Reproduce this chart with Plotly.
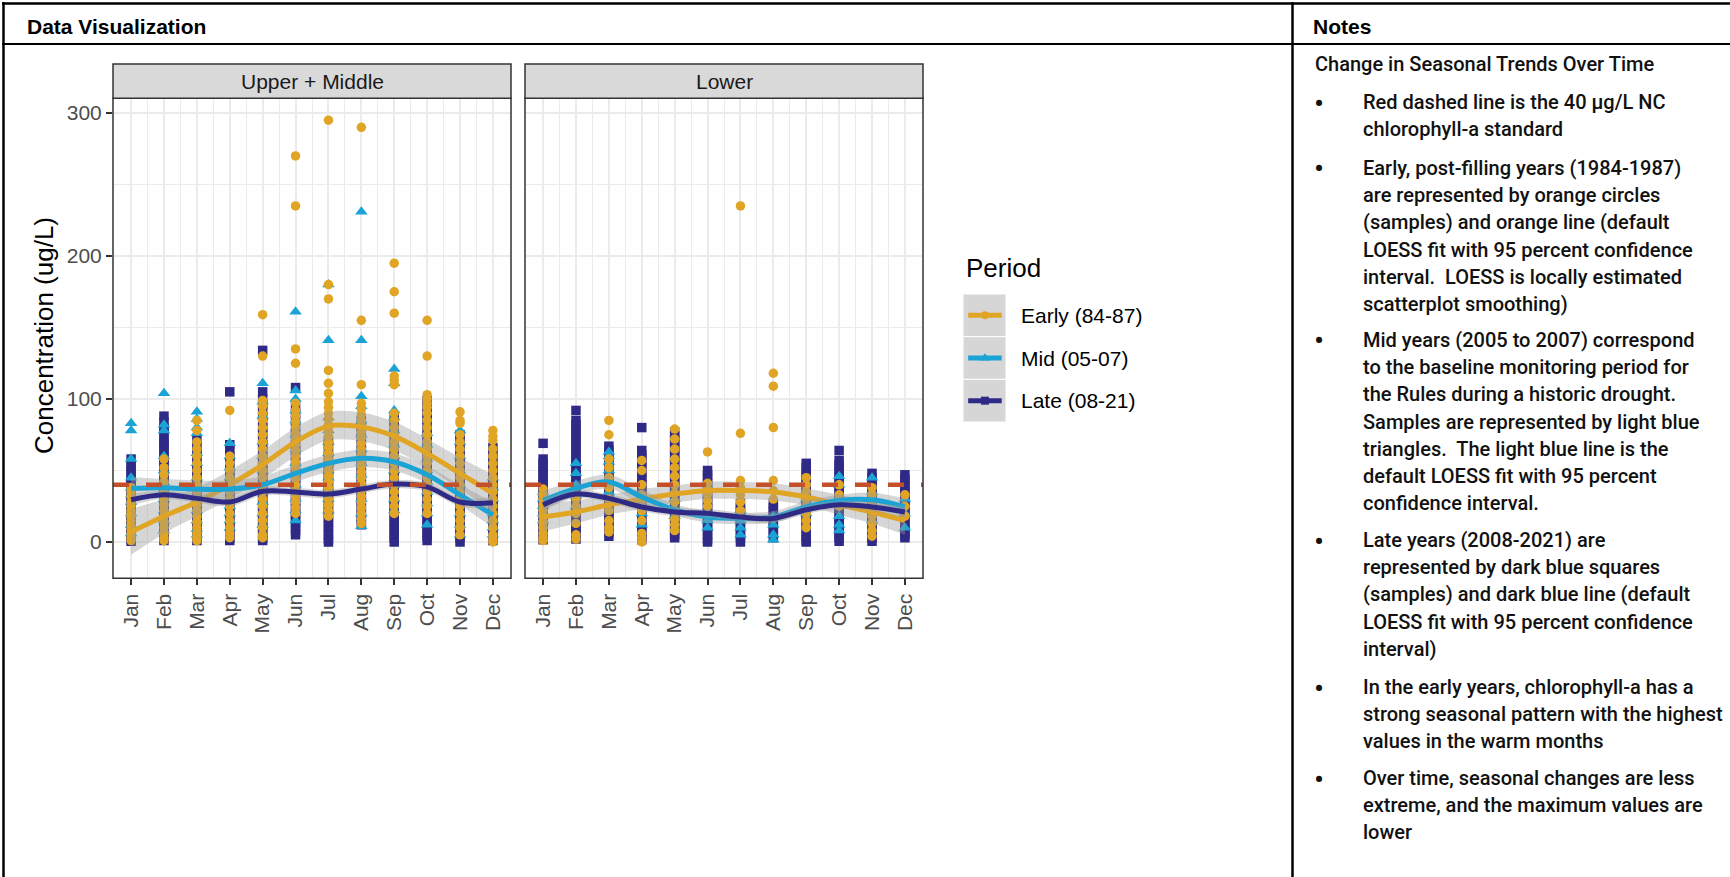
import plotly.graph_objects as go

W, H = 1730, 877

MONTHS = ["Jan", "Feb", "Mar", "Apr", "May", "Jun", "Jul", "Aug", "Sep", "Oct", "Nov", "Dec"]
PANELS = ["Upper + Middle", "Lower"]
PERIODS = ["Early (84-87)", "Mid (05-07)", "Late (08-21)"]
STANDARD = 40  # NC chlorophyll-a standard, ug/L

# ---- samples, one list per month (ug/L) ----
UM_EARLY = [
    [38, 35, 32, 28, 25, 22, 20, 18, 15, 12, 9, 6, 3, 1],
    [58, 52, 47, 42, 38, 34, 30, 26, 22, 18, 14, 10, 6, 3, 1],
    [85, 78, 70, 65, 60, 55, 50, 45, 40, 35, 30, 26, 22, 18, 14, 10, 6, 3, 1],
    [92, 60, 55, 50, 45, 40, 35, 30, 25, 20, 15, 10, 6, 3],
    [159, 130, 99, 95, 90, 85, 80, 75, 70, 65, 60, 55, 50, 45, 40, 35, 30, 25, 20, 15, 10, 5, 3],
    [270, 235, 135, 125, 97, 92, 88, 84, 80, 76, 72, 68, 64, 60, 56, 52, 48, 44, 40, 36, 32, 28, 24, 20],
    [295, 180, 170, 120, 111, 104, 98, 94, 90, 86, 82, 78, 74, 70, 66, 62, 58, 54, 50, 46, 42, 38, 34, 30, 26, 22, 18],
    [290, 155, 110, 97, 93, 89, 85, 81, 77, 73, 69, 65, 61, 57, 53, 49, 45, 41, 36, 32, 28, 24, 20, 16, 13],
    [195, 175, 160, 116, 113, 110, 90, 85, 80, 75, 70, 65, 60, 55, 50, 45, 40, 35, 30, 25, 20],
    [155, 130, 103, 100, 97, 94, 90, 85, 80, 75, 70, 65, 60, 55, 50, 45, 40, 35, 30, 25, 20],
    [91, 85, 83, 75, 70, 65, 60, 55, 50, 45, 40, 35, 30, 25, 20, 15, 10, 5],
    [78, 74, 71, 65, 60, 55, 50, 45, 40, 35, 30, 25, 20, 15, 10, 5, 2, 0],
]
UM_MID = [
    [83, 78, 58, 45, 38, 33, 28, 20, 12, 6],
    [104, 82, 78, 60, 50, 42, 36, 30, 22, 15, 8],
    [91, 86, 80, 76, 62, 55, 45, 38, 30, 22, 15, 9, 5],
    [69, 60, 52, 45, 38, 30, 25, 20, 15, 10],
    [111, 98, 88, 70, 60, 50, 42, 36, 28, 20, 12],
    [161, 106, 100, 92, 85, 75, 65, 55, 48, 40, 30, 22, 15],
    [180, 141, 87, 78, 70, 62, 55, 50, 45, 38, 30, 22],
    [231, 141, 102, 95, 85, 75, 65, 55, 47, 40, 30, 20, 11],
    [121, 111, 92, 87, 78, 68, 60, 50, 40, 30, 22],
    [76, 68, 58, 50, 42, 35, 27, 20, 12],
    [78, 70, 60, 50, 40, 30, 20, 12, 5],
    [45, 38, 30, 20, 15, 10, 5],
]
UM_LATE = [
    [0.5, 2, 4, 6, 8, 11, 13, 15, 18, 20, 22, 25, 27, 30, 32, 35, 37, 40, 42, 45, 48, 51, 54, 58],
    [1, 3, 5, 8, 10, 12, 15, 17, 20, 23, 25, 28, 30, 33, 36, 38, 41, 44, 47, 50, 53, 56, 59, 62, 65, 68, 70, 73, 77, 80, 84, 88],
    [1, 3, 6, 8, 11, 13, 16, 19, 21, 24, 27, 30, 33, 35, 38, 41, 44, 47, 50, 53, 56, 60, 63, 67, 71],
    [1, 3, 5, 8, 10, 13, 16, 18, 21, 24, 27, 30, 33, 36, 39, 42, 45, 48, 52, 56, 60, 64, 68, 105],
    [1, 3, 6, 9, 12, 15, 18, 21, 24, 27, 30, 33, 36, 40, 43, 46, 50, 53, 57, 60, 64, 68, 72, 76, 80, 84, 88, 92, 96, 100, 105, 134],
    [5, 8, 11, 14, 17, 20, 23, 26, 29, 32, 36, 39, 42, 45, 48, 52, 56, 60, 64, 68, 72, 76, 80, 85, 90, 95, 108],
    [0, 2, 5, 8, 11, 14, 17, 20, 23, 26, 29, 32, 35, 38, 41, 44, 47, 50, 53, 56, 60, 64, 68, 71],
    [12, 15, 18, 21, 24, 27, 30, 33, 36, 39, 42, 45, 48, 51, 54, 57, 60, 64, 68, 72, 76, 80, 85],
    [0, 3, 6, 9, 12, 15, 18, 21, 24, 27, 30, 33, 36, 39, 42, 45, 48, 51, 54, 57, 60, 64, 68, 72, 76, 80, 84, 87],
    [1, 4, 7, 10, 13, 16, 19, 22, 25, 28, 31, 34, 37, 40, 43, 46, 49, 52, 55, 58, 62, 66, 70, 74, 78, 82, 86, 90, 95, 99],
    [0, 3, 6, 9, 12, 15, 18, 21, 24, 27, 30, 33, 36, 39, 42, 45, 48, 51, 54, 57, 60, 64, 68, 72, 75],
    [1, 3, 6, 9, 12, 15, 18, 21, 24, 27, 30, 33, 36, 39, 42, 45, 48, 51, 54, 58, 62, 66],
]
LO_EARLY = [
    [37, 33, 30, 26, 22, 18, 14, 10, 6, 3, 1],
    [30, 25, 20, 13, 5, 2],
    [85, 75, 58, 52, 45, 38, 30, 22, 15, 10, 7],
    [57, 50, 40, 33, 28, 22, 15, 6, 3, 0],
    [79, 72, 65, 58, 52, 46, 40, 34, 28, 22, 16, 12, 8],
    [63, 41, 37, 33, 29, 25],
    [235, 76, 43, 38, 33, 28, 22],
    [118, 109, 80, 43, 36, 30],
    [45, 40, 35, 30, 25, 20, 15, 10],
    [40, 33, 25],
    [38, 33, 28, 23, 18, 13, 8, 4],
    [33, 25, 18],
]
LO_MID = [
    [35, 30, 25, 20, 15],
    [55, 48, 40, 32, 25],
    [63, 60, 56, 50, 42, 35],
    [30, 20, 12],
    [30, 22, 18],
    [20, 15, 10],
    [22, 15, 10, 5],
    [18, 12, 5, 1.5],
    [30, 25, 20],
    [46, 40, 30, 18, 12, 8],
    [45, 35, 25, 15],
    [30, 20, 10],
]
LO_LATE = [
    [69, 58, 55, 52, 49, 46, 43, 40, 37, 34, 31, 28, 25, 22, 19, 16, 13, 10, 7, 4, 1.5],
    [92, 85, 82, 79, 76, 73, 70, 67, 64, 61, 58, 55, 52, 49, 46, 43, 40, 37, 34, 31, 28, 25, 22, 19, 16, 13, 10, 7, 4, 2],
    [67, 64, 61, 58, 55, 52, 49, 46, 43, 40, 37, 34, 31, 28, 25, 22, 19, 16, 13, 10, 7, 4],
    [80, 64, 61, 58, 55, 52, 49, 46, 43, 40, 37, 34, 31, 28, 25, 22, 19, 16, 13, 10, 7, 4, 1.5],
    [77, 74, 71, 68, 65, 62, 59, 56, 53, 50, 47, 44, 41, 38, 35, 32, 29, 26, 23, 20, 17, 14, 11, 8, 5, 3],
    [50, 47, 44, 41, 38, 35, 32, 29, 26, 23, 20, 17, 14, 11, 8, 5, 2, 0],
    [27, 24, 21, 18, 15, 12, 9, 6, 3, 0],
    [27, 24, 21, 18, 15, 12, 9, 6, 3],
    [55, 52, 49, 46, 43, 40, 37, 34, 31, 28, 25, 22, 19, 16, 13, 10, 7, 4, 1, 0],
    [64, 57, 54, 51, 48, 45, 42, 39, 36, 33, 30, 27, 24, 21, 18, 15, 12, 9, 6, 3, 0.5],
    [48, 45, 42, 39, 36, 33, 30, 27, 24, 21, 18, 15, 12, 9, 6, 3, 0.5],
    [47, 44, 41, 38, 35, 32, 29, 26, 23, 20, 17, 14, 11, 8, 5, 3],
]

# ---- LOESS fits by month and 95% CI half-widths ----
UM_EARLY_FIT = [7, 18, 28, 40, 54, 70, 81, 80.5, 74, 62, 48, 34]
UM_EARLY_CI = [16, 12, 10, 10, 10, 10, 10, 10, 10, 10, 11, 13]
UM_MID_FIT = [37.5, 38, 37, 37, 40, 48, 55, 58.5, 56, 47, 33, 19]
UM_MID_CI = [8, 6, 6, 6, 6, 6, 6, 6, 6, 6, 7, 9]
UM_LATE_FIT = [29.5, 33, 30.5, 28, 35.5, 35, 33.5, 37, 40.5, 38.5, 28, 27.5]
UM_LATE_CI = [4, 3, 3, 3, 3, 3, 3, 3, 3, 3, 3, 4]
LO_EARLY_FIT = [17.5, 21, 26, 30, 33.5, 36, 36, 35, 31.5, 26, 21, 15]
LO_EARLY_CI = [10, 8, 7, 7, 6, 6, 6, 6, 6, 7, 8, 10]
LO_MID_FIT = [29, 37.5, 42, 31.5, 22.5, 17.5, 16.5, 17.5, 24.5, 29, 29.5, 24.5]
LO_MID_CI = [7, 5, 5, 5, 4, 4, 4, 4, 4, 4, 5, 6]
LO_LATE_FIT = [26, 33.5, 30.5, 24.5, 21, 20, 17.5, 16.5, 22.5, 26, 24.5, 21]
LO_LATE_CI = [4, 3, 3, 3, 3, 3, 3, 3, 3, 3, 3, 4]

COLORS = {"Early": "#E1A526", "Mid": "#1AA3D4", "Late": "#2E2A86"}
SYMBOLS = {"Early": "circle", "Mid": "triangle-up", "Late": "square"}
SIZES = {"Early": 9.5, "Mid": 11, "Late": 9.5}
RED = "#C4502A"
BAND = "rgba(153,153,153,0.4)"

FONT = "Liberation Sans, Arial, sans-serif"
NOTE_FONT = "Roboto, Liberation Sans, Arial, sans-serif"


def px(x):
    return x / W


def py(y):
    return 1 - y / H


fig = go.Figure()

panel_data = [
    ("x", "y", {"Early": UM_EARLY, "Mid": UM_MID, "Late": UM_LATE},
     {"Early": (UM_EARLY_FIT, UM_EARLY_CI), "Mid": (UM_MID_FIT, UM_MID_CI), "Late": (UM_LATE_FIT, UM_LATE_CI)}),
    ("x2", "y2", {"Early": LO_EARLY, "Mid": LO_MID, "Late": LO_LATE},
     {"Early": (LO_EARLY_FIT, LO_EARLY_CI), "Mid": (LO_MID_FIT, LO_MID_CI), "Late": (LO_LATE_FIT, LO_LATE_CI)}),
]

month_num = list(range(1, 13))

for xa, ya, samples, fits in panel_data:
    # sample points
    for period in ["Late", "Mid", "Early"]:
        xs, ys = [], []
        for m, vals in zip(month_num, samples[period]):
            xs += [m] * len(vals)
            ys += vals
        fig.add_trace(go.Scatter(
            x=xs, y=ys, mode="markers", xaxis=xa, yaxis=ya, showlegend=False,
            marker=dict(symbol=SYMBOLS[period], size=SIZES[period], color=COLORS[period],
                        line=dict(width=0)),
            hoverinfo="skip"))
    # smooths: ribbon then line per period
    for period in ["Early", "Mid", "Late"]:
        fit, ci = fits[period]
        lo = [f - c for f, c in zip(fit, ci)]
        hi = [f + c for f, c in zip(fit, ci)]
        fig.add_trace(go.Scatter(x=month_num, y=lo, mode="lines", xaxis=xa, yaxis=ya,
                                 line=dict(width=0, shape="spline", color=BAND),
                                 showlegend=False, hoverinfo="skip"))
        fig.add_trace(go.Scatter(x=month_num, y=hi, mode="lines", xaxis=xa, yaxis=ya,
                                 line=dict(width=0, shape="spline", color=BAND),
                                 fill="tonexty", fillcolor=BAND,
                                 showlegend=False, hoverinfo="skip"))
        fig.add_trace(go.Scatter(x=month_num, y=fit, mode="lines", xaxis=xa, yaxis=ya,
                                 line=dict(width=5, shape="spline", color=COLORS[period]),
                                 showlegend=False, hoverinfo="skip"))
    # standard line
    fig.add_trace(go.Scatter(x=[0.45, 12.55], y=[STANDARD, STANDARD], mode="lines",
                             xaxis=xa, yaxis=ya, showlegend=False, hoverinfo="skip",
                             line=dict(color=RED, width=4.5, dash="16px,17px")))

# ---- legend keys drawn on their own small axes ----
key_rows = [2.5, 1.5, 0.5]
for period, yk in zip(["Early", "Mid", "Late"], key_rows):
    fig.add_trace(go.Scatter(x=[0.12, 0.9], y=[yk, yk], mode="lines", xaxis="x3", yaxis="y3",
                             line=dict(color=COLORS[period], width=5),
                             showlegend=False, hoverinfo="skip"))
    fig.add_trace(go.Scatter(x=[0.51], y=[yk], mode="markers", xaxis="x3", yaxis="y3",
                             marker=dict(symbol=SYMBOLS[period], size=SIZES[period] - 1.5,
                                         color=COLORS[period]),
                             showlegend=False, hoverinfo="skip"))

# ---- axes ----
PANEL_TOP, PANEL_BOT = 98.3, 578.3
Y_RANGE = [-25.4, 310.3]
X_RANGE = [0.45, 12.55]
GRID = "#EBEBEB"

common_x = dict(
    range=X_RANGE, tickmode="array", tickvals=month_num, ticktext=MONTHS, tickangle=-90,
    ticks="outside", ticklen=6, tickwidth=1.5, tickcolor="#333333",
    tickfont=dict(family=FONT, size=21, color="#4D4D4D"),
    showgrid=True, gridcolor=GRID, gridwidth=1.8, zeroline=False, showline=False,
    minor=dict(tickvals=[m + 0.5 for m in month_num[:-1]], showgrid=True, gridcolor=GRID,
               gridwidth=1.1, ticks=""),
)
common_y = dict(
    range=Y_RANGE, tickmode="array", tickvals=[0, 100, 200, 300],
    showgrid=True, gridcolor=GRID, gridwidth=1.8, zeroline=False, showline=False,
    minor=dict(tickvals=[50, 150, 250], showgrid=True, gridcolor=GRID, gridwidth=1.1, ticks=""),
    domain=[py(PANEL_BOT), py(PANEL_TOP)],
)

P1 = (113, 511)
P2 = (525, 923)

fig.update_layout(
    width=W, height=H, margin=dict(l=0, r=0, t=0, b=0),
    paper_bgcolor="white", plot_bgcolor="white", showlegend=False,
    xaxis=dict(domain=[px(P1[0]), px(P1[1])], anchor="y", **common_x),
    yaxis=dict(anchor="x", ticks="outside", ticklen=6, tickwidth=1.5, tickcolor="#333333",
               tickfont=dict(family=FONT, size=21, color="#4D4D4D"), **common_y),
    xaxis2=dict(domain=[px(P2[0]), px(P2[1])], anchor="y2", **common_x),
    yaxis2=dict(anchor="x2", showticklabels=False, ticks="", **common_y),
    xaxis3=dict(domain=[px(963), px(1006)], range=[0, 1], visible=False, anchor="y3"),
    yaxis3=dict(domain=[py(422), py(294)], range=[0, 3], visible=False, anchor="x3"),
)

shapes = []
annotations = []

# panel borders and strips
for (x0, x1), label in zip([P1, P2], PANELS):
    shapes.append(dict(type="rect", xref="paper", yref="paper", x0=px(x0), x1=px(x1),
                       y0=py(PANEL_BOT), y1=py(PANEL_TOP), line=dict(color="#333333", width=1.5),
                       fillcolor="rgba(0,0,0,0)", layer="above"))
    shapes.append(dict(type="rect", xref="paper", yref="paper", x0=px(x0), x1=px(x1),
                       y0=py(PANEL_TOP), y1=py(64), line=dict(color="#333333", width=1.5),
                       fillcolor="#D9D9D9", layer="above"))
    annotations.append(dict(x=px((x0 + x1) / 2), y=py(81), xref="paper", yref="paper",
                            text=label, showarrow=False, xanchor="center", yanchor="middle",
                            font=dict(family=FONT, size=21, color="#1A1A1A")))

# legend key backgrounds
for yk in key_rows:
    shapes.append(dict(type="rect", xref="x3", yref="y3", x0=0, x1=1, y0=yk - 0.5, y1=yk + 0.5,
                       fillcolor=BAND, line=dict(color="white", width=1), layer="below"))

# y-axis title
annotations.append(dict(x=px(44), y=py(336), xref="paper", yref="paper",
                        text="Concentration (ug/L)", textangle=-90, showarrow=False,
                        xanchor="center", yanchor="middle",
                        font=dict(family=FONT, size=26, color="#000000")))

# legend title and labels
annotations.append(dict(x=px(964), y=py(268), xref="paper", yref="paper", text="Period",
                        showarrow=False, xanchor="left", yanchor="middle",
                        font=dict(family=FONT, size=26, color="#000000")))
for label, yc in zip(PERIODS, [315.3, 358, 400.7]):
    annotations.append(dict(x=px(1019), y=py(yc), xref="paper", yref="paper", text=label,
                            showarrow=False, xanchor="left", yanchor="middle",
                            font=dict(family=FONT, size=21, color="#000000")))

# table frame
LINE = dict(color="#000000", width=2.5)
shapes += [
    dict(type="line", xref="paper", yref="paper", x0=px(2), x1=1, y0=py(3.5), y1=py(3.5), line=LINE),
    dict(type="line", xref="paper", yref="paper", x0=px(3.5), x1=px(3.5), y0=0, y1=py(2), line=LINE),
    dict(type="line", xref="paper", yref="paper", x0=px(2), x1=1, y0=py(44), y1=py(44), line=dict(color="#000000", width=2)),
    dict(type="line", xref="paper", yref="paper", x0=px(1292.5), x1=px(1292.5), y0=0, y1=py(2), line=LINE),
]

annotations.append(dict(x=px(25), y=py(26), xref="paper", yref="paper", text="<b>Data Visualization</b>",
                        showarrow=False, xanchor="left", yanchor="middle",
                        font=dict(family=FONT, size=21, color="#000000")))
annotations.append(dict(x=px(1311), y=py(26), xref="paper", yref="paper", text="<b>Notes</b>",
                        showarrow=False, xanchor="left", yanchor="middle",
                        font=dict(family=FONT, size=21, color="#000000")))

# notes column
NOTE_TITLE = "Change in Seasonal Trends Over Time"
NOTES = [
    ["Red dashed line is the 40 µg/L NC", "chlorophyll-a standard"],
    ["Early, post-filling years (1984-1987)", "are represented by orange circles",
     "(samples) and orange line (default", "LOESS fit with 95 percent confidence",
     "interval.\u00a0 LOESS is locally estimated", "scatterplot smoothing)"],
    ["Mid years (2005 to 2007) correspond", "to the baseline monitoring period for",
     "the Rules during a historic drought.", "Samples are represented by light blue",
     "triangles.\u00a0 The light blue line is the", "default LOESS fit with 95 percent",
     "confidence interval."],
    ["Late years (2008-2021) are", "represented by dark blue squares",
     "(samples) and dark blue line (default", "LOESS fit with 95 percent confidence",
     "interval)"],
    ["In the early years, chlorophyll-a has a", "strong seasonal pattern with the highest",
     "values in the warm months"],
    ["Over time, seasonal changes are less", "extreme, and the maximum values are", "lower"],
]
NOTE_STARTS = [102, 168, 340, 540, 687, 778]
LINE_STEP = 27.2
NOTE_COLOR = "#111111"
NOTE_SIZE = 20

annotations.append(dict(x=px(1313), y=py(64), xref="paper", yref="paper", text=NOTE_TITLE,
                        showarrow=False, xanchor="left", yanchor="middle",
                        font=dict(family=NOTE_FONT, size=NOTE_SIZE, color=NOTE_COLOR, weight=500)))
for lines, y0 in zip(NOTES, NOTE_STARTS):
    annotations.append(dict(x=px(1319), y=py(y0 + 1), xref="paper", yref="paper", text="•",
                            showarrow=False, xanchor="center", yanchor="middle",
                            font=dict(family=NOTE_FONT, size=30, color=NOTE_COLOR)))
    for i, line in enumerate(lines):
        annotations.append(dict(x=px(1361), y=py(y0 + i * LINE_STEP), xref="paper", yref="paper",
                                text=line, showarrow=False, xanchor="left", yanchor="middle",
                                font=dict(family=NOTE_FONT, size=NOTE_SIZE, color=NOTE_COLOR,
                                          weight=500)))

fig.update_layout(shapes=shapes, annotations=annotations)

fig.write_html("out.html")
